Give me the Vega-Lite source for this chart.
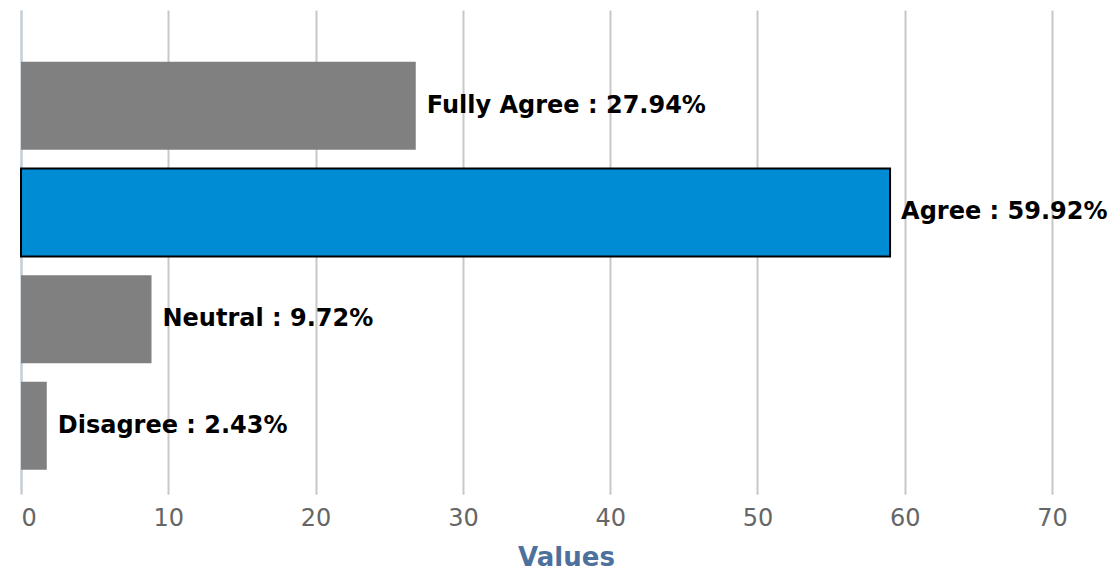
{
  "$schema": "https://vega.github.io/schema/vega-lite/v6.json",
  "width": 1090,
  "height": 481,
  "autosize": "none",
  "padding": {"left": 21, "top": 10, "right": 3, "bottom": 83},
  "background": "white",
  "config": {"view": {"stroke": null}},
  "data": {
    "values": [
      {"category": "Fully Agree", "value": 26.8, "label": "Fully Agree : 27.94%"},
      {"category": "Agree", "value": 59.0, "label": "Agree : 59.92%"},
      {"category": "Neutral", "value": 8.86, "label": "Neutral : 9.72%"},
      {"category": "Disagree", "value": 1.75, "label": "Disagree : 2.43%"}
    ]
  },
  "encoding": {
    "y": {
      "field": "category",
      "type": "nominal",
      "sort": null,
      "scale": {"paddingInner": 0.175, "paddingOuter": 0.342, "align": 0.71},
      "axis": {
        "title": null,
        "labels": false,
        "ticks": false,
        "grid": false,
        "domainColor": "#c0d0e0",
        "domainWidth": 2
      }
    },
    "x": {
      "field": "value",
      "type": "quantitative",
      "scale": {"domain": [0, 74], "nice": false},
      "axis": {
        "values": [0, 10, 20, 30, 40, 50, 60, 70],
        "title": "Values",
        "titleFont": "DejaVu Sans",
        "titleFontSize": 26,
        "titleFontWeight": "bold",
        "titleColor": "#4d719c",
        "titlePadding": 14,
        "labelFont": "DejaVu Sans",
        "labelFontSize": 24,
        "labelColor": "#666666",
        "labelPadding": 12,
        "domain": false,
        "ticks": true,
        "tickColor": "#c0c0c0",
        "tickSize": 3,
        "tickWidth": 2,
        "grid": true,
        "gridColor": "#c8c8c8",
        "gridWidth": 2
      }
    }
  },
  "layer": [
    {
      "mark": {"type": "bar"},
      "encoding": {
        "color": {
          "field": "category",
          "type": "nominal",
          "scale": {
            "domain": ["Fully Agree", "Agree", "Neutral", "Disagree"],
            "range": ["#808080", "#008cd4", "#808080", "#808080"]
          },
          "legend": null
        },
        "stroke": {"value": "#000000"},
        "strokeWidth": {
          "condition": {"test": "datum.category === 'Agree'", "value": 2},
          "value": 0
        }
      }
    },
    {
      "mark": {
        "type": "text",
        "align": "left",
        "baseline": "middle",
        "dx": 11,
        "font": "DejaVu Sans",
        "fontSize": 24,
        "fontWeight": "bold",
        "color": "#000000"
      },
      "encoding": {
        "text": {"field": "label"}
      }
    }
  ]
}
